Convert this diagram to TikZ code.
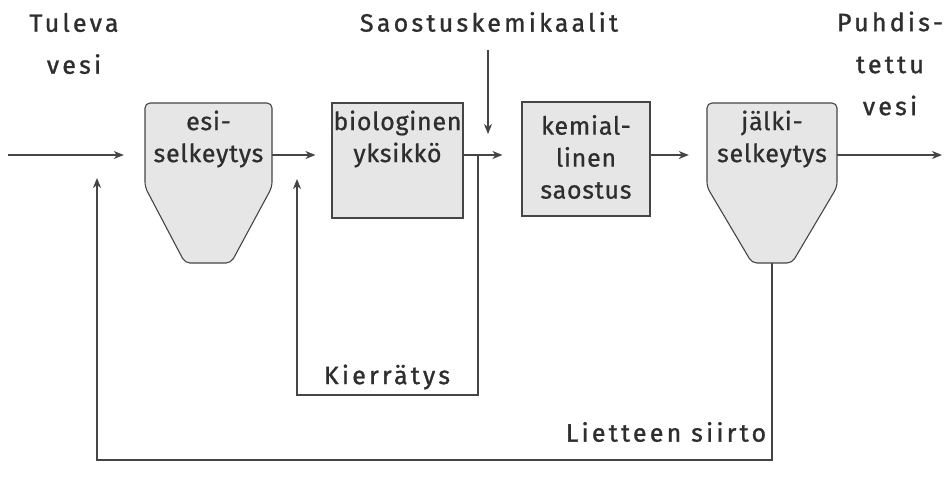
\documentclass[tikz,border=0pt]{standalone}
\usepackage{fontspec}
\setmainfont{Fira Sans}
\newfontfamily\headfont[LetterSpace=13,FakeBold=1.2]{Fira Sans}
\newfontfamily\boxfont[LetterSpace=3,FakeBold=0.8]{Fira Sans}
\usetikzlibrary{arrows.meta}
\definecolor{ink}{HTML}{2E2E2E}
\definecolor{linec}{HTML}{454545}
\definecolor{tankfill}{HTML}{E6E6E6}
\tikzset{
  head/.style={text=ink, align=center, inner sep=0pt, font=\headfont\fontsize{25}{42}\selectfont},
  boxtext/.style={text=ink, align=center, inner sep=0pt, font=\boxfont\fontsize{25}{32}\selectfont},
  unitbox/.style={draw=linec, line width=1.1pt, fill=tankfill, inner sep=0pt},
  tank/.style={draw=linec, line width=1.1pt, fill=tankfill, rounded corners=5pt},
  flow/.style={draw=linec, line width=1.1pt, -{Stealth[length=10pt,width=8pt,inset=3pt]}},
}
\begin{document}
\begin{tikzpicture}[x=1pt,y=-1pt]
\useasboundingbox (0,0) rectangle (950,488);
% hoppers
\path[tank] (145,187) -- (145,103) -- (272,103) -- (272,187) -- (231,263) -- (185,263) -- cycle;
\path[tank] (707,187) -- (707,103) -- (837,103) -- (837,187) -- (792,263) -- (752,263) -- cycle;
% unit nodes
\node[boxtext, minimum width=127pt] (esi) at (208.5,139) {esi-\\selkeytys};
\node[unitbox, minimum width=131pt, minimum height=115pt,
  label={[boxtext,yshift=21.5pt]center:{biologinen\\yksikkö}}] (bio) at (397.5,160.5) {};
\node[unitbox, minimum width=128pt, minimum height=114pt,
  label={[boxtext,yshift=2pt]center:{kemial-\\linen\\saostus}}] (kem) at (586,159) {};
\node[boxtext, minimum width=130pt] (jal) at (772,139) {jälki-\\selkeytys};
% headings
\node[head] (tul) at (74,43.5) {Tuleva\\vesi};
\node[head] (sao) at (489,22) {Saostuskemikaalit};
\node[head] (puh) at (890,63.5) {Puhdis-\\tettu\\vesi};
\node[head] (kier) at (387,377) {Kierrätys};
\node[head] (liet) at (666,432) {Lietteen siirto};
% coordinates
\coordinate (lev) at (0,155);
\coordinate (inlet) at (8,155);
\coordinate (outlet) at (942,155);
\coordinate (chemtop) at (488,50);
\coordinate (chemend) at (488,134);
\coordinate (split) at (478,155);
\coordinate (kb) at (478,395);
\coordinate (kl) at (297,395);
\coordinate (kt) at (297,179);
\coordinate (jb) at (772,263);
\coordinate (lb) at (772,460);
\coordinate (ll) at (97,460);
\coordinate (lt) at (97,178);
% flows
\draw[flow] (inlet) -- ([xshift=-21pt]esi.west |- lev);
\draw[flow] (esi.east |- lev) -- ([xshift=-16pt]bio.west |- lev);
\draw[flow] (bio.east |- lev) -- ([xshift=-19pt]kem.west |- lev);
\draw[flow] (kem.east |- lev) -- ([xshift=-18pt]jal.west |- lev);
\draw[flow] (jal.east |- lev) -- (outlet);
\draw[flow] (chemtop) -- (chemend);
\draw[flow] (split) -- (kb) -- (kl) -- (kt);
\draw[flow] (jb) -- (lb) -- (ll) -- (lt);
\end{tikzpicture}
\end{document}
